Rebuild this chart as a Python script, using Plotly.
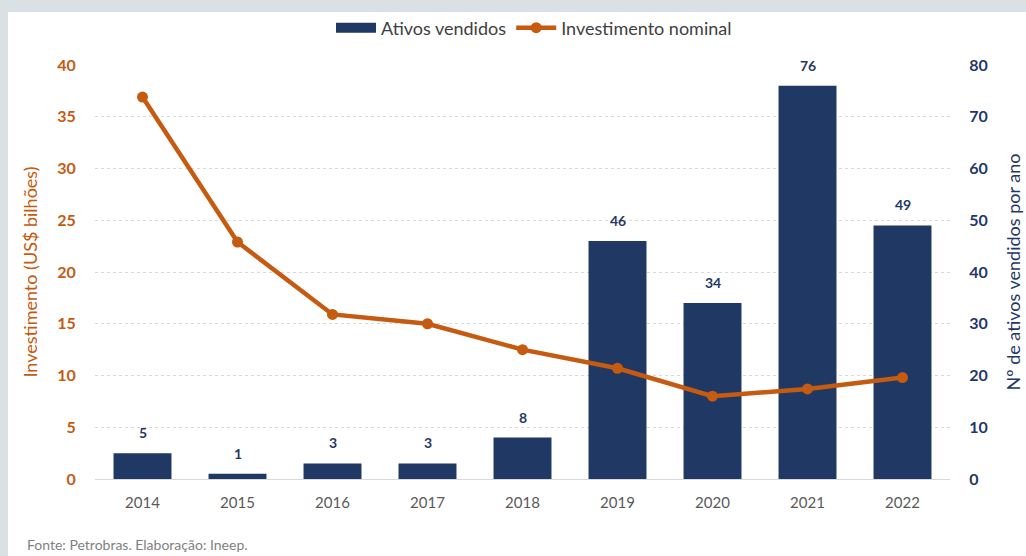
import plotly.graph_objects as go

years = ["2014", "2015", "2016", "2017", "2018", "2019", "2020", "2021", "2022"]
ativos_vendidos = [5, 1, 3, 3, 8, 46, 34, 76, 49]
investimento = [36.9, 22.9, 15.9, 15.0, 12.5, 10.7, 8.0, 8.7, 9.8]

NAVY = "#1f3864"
ORANGE = "#c55a11"
FONT = "Lato"

fig = go.Figure()
fig.add_trace(go.Bar(
    x=years, y=ativos_vendidos, name="Ativos vendidos",
    marker=dict(color=NAVY, line=dict(width=0)),
    yaxis="y", showlegend=False,
))
# legend entry for bars drawn as a wide rectangle swatch
fig.add_trace(go.Scatter(
    x=years[:1], y=[None], name="Ativos vendidos", mode="lines",
    line=dict(color=NAVY, width=10), yaxis="y", hoverinfo="skip",
    legendrank=1,
))
fig.add_trace(go.Scatter(
    x=years, y=investimento, name="Investimento nominal",
    mode="lines+markers", yaxis="y2",
    line=dict(color=ORANGE, width=4.5),
    marker=dict(color=ORANGE, size=11),
    legendrank=2,
))

L, R, T, B = 95, 76, 65, 77
W, H = 1026, 556
pw, ph = W - L - R, H - T - B

def px(x):
    return (x - L) / pw

def py(y):
    return (H - B - y) / ph

annotations = [dict(
    text="Fonte: Petrobras. Elaboração: Ineep.", xref="paper", yref="paper",
    x=px(25), y=py(544), xanchor="left", yanchor="middle", showarrow=False,
    font=dict(family=FONT, size=14, color="#7f7f7f"),
)]
for i, v in enumerate(ativos_vendidos):
    annotations.append(dict(
        x=i, y=v, xref="x", yref="y", text=str(v), showarrow=False,
        yanchor="bottom", yshift=10,
        font=dict(family=FONT, size=14, color=NAVY, weight="bold"),
    ))

fig.update_layout(
    width=W, height=H,
    margin=dict(l=L, r=R, t=T, b=B, autoexpand=False),
    paper_bgcolor="#dae1e5",
    plot_bgcolor="rgba(0,0,0,0)",
    font=dict(family=FONT, size=15, color="#595959"),
    bargap=0.39,
    showlegend=True,
    legend=dict(
        orientation="h", x=px(534), y=py(28), xanchor="center", yanchor="middle",
        font=dict(family=FONT, size=18, color="#404040"),
        bgcolor="rgba(0,0,0,0)", itemwidth=40, tracegroupgap=0,
    ),
    xaxis=dict(
        type="category", categoryorder="array", categoryarray=years,
        range=[-0.5, len(years) - 0.5],
        showgrid=False, showline=True, linecolor="#d9d9d9", linewidth=1,
        ticks="outside", ticklen=10, tickcolor="rgba(0,0,0,0)",
        tickfont=dict(family=FONT, size=15, color="#595959"),
        automargin=False,
    ),
    yaxis=dict(
        side="right", range=[0, 80], dtick=10,
        showgrid=True, gridcolor="#d9d9d9", griddash="dot", gridwidth=1,
        zeroline=False, showline=False,
        ticks="outside", ticklen=15, tickcolor="rgba(0,0,0,0)",
        tickfont=dict(family=FONT, size=16, color=NAVY, weight="bold"),
        title=dict(text="Nº de ativos vendidos por ano", standoff=20,
                   font=dict(family=FONT, size=18, color=NAVY)),
        automargin=False,
    ),
    yaxis2=dict(
        overlaying="y", side="left", range=[0, 40], dtick=5,
        showgrid=False, zeroline=False, showline=False,
        ticks="outside", ticklen=15, tickcolor="rgba(0,0,0,0)",
        tickfont=dict(family=FONT, size=16, color=ORANGE, weight="bold"),
        title=dict(text="Investimento (US$ bilhões)", standoff=14,
                   font=dict(family=FONT, size=18, color=ORANGE)),
        automargin=False,
    ),
    shapes=[dict(
        type="rect", xref="paper", yref="paper", layer="below",
        x0=px(8), x1=px(1040), y0=py(570), y1=py(12),
        fillcolor="white", line=dict(width=0),
    )],
    annotations=annotations,
)

fig.write_html(
    "out.html",
    config={"displayModeBar": False},
    post_script="document.body.style.margin='0';document.body.style.padding='0';",
)
